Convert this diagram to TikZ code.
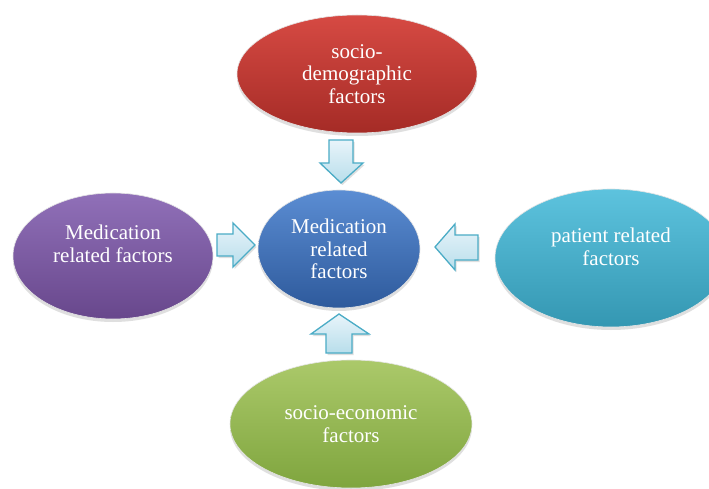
\documentclass[tikz,border=0pt]{standalone}
\usepackage{fontspec}
\setmainfont{Liberation Serif}
\usetikzlibrary{shadows,shapes.geometric}
\definecolor{redT}{HTML}{D64A43}\definecolor{redB}{HTML}{A52B26}
\definecolor{bluT}{HTML}{5B8DD3}\definecolor{bluB}{HTML}{2E5A9C}
\definecolor{purT}{HTML}{9070B8}\definecolor{purB}{HTML}{68478C}
\definecolor{teaT}{HTML}{5DC3DE}\definecolor{teaB}{HTML}{3497B2}
\definecolor{grnT}{HTML}{ABC96A}\definecolor{grnB}{HTML}{7FA53E}
\definecolor{arrT}{HTML}{E8F4FA}\definecolor{arrB}{HTML}{B8DEEB}
\definecolor{arrD}{HTML}{4BACC6}
\tikzset{
  blob/.style={ellipse, minimum width=#1, inner sep=0pt,
    draw=white!80!gray, line width=0.6pt,
    drop shadow={shadow xshift=0pt, shadow yshift=-3pt, opacity=0.25}},
  lbl/.style={text=white, align=center, font=\fontsize{21}{22.5}\selectfont},
  blk/.style={draw=arrD, line width=1.3pt, line join=miter, top color=arrT, bottom color=arrB,
    drop shadow={shadow xshift=1.5pt, shadow yshift=-2pt, opacity=0.25}},
}
\begin{document}
\begin{tikzpicture}[x=1pt,y=-1pt]
\useasboundingbox (0,0) rectangle (709,489);
\fill[white] (0,0) rectangle (709,489);
\node[blob, minimum width=240pt, minimum height=118pt, top color=redT, bottom color=redB] (top) at (357,74) {};
\node[blob, minimum width=162pt, minimum height=118pt, top color=bluT, bottom color=bluB] (mid) at (339,249) {};
\node[blob, minimum width=200pt, minimum height=126pt, top color=purT, bottom color=purB] (left) at (113,256) {};
\node[blob, minimum width=232pt, minimum height=138pt, top color=teaT, bottom color=teaB] (right) at (611,258) {};
\node[blob, minimum width=242pt, minimum height=128pt, top color=grnT, bottom color=grnB] (bot) at (351,424) {};
\node[lbl] (topt) at (top) {socio-\\demographic\\factors};
\node[lbl] (midt) at (mid) {Medication\\related\\factors};
\node[lbl] (leftt) at ([yshift=12pt]left.center) {Medication\\related factors};
\node[lbl] (rightt) at ([yshift=11pt]right.center) {patient related\\factors};
\node[lbl] (bott) at (bot) {socio-economic\\factors};
% block arrows
\path[blk] (329,140) -- (353,140) -- (353,163) -- (363,163) -- (341,183) -- (320,163) -- (329,163) -- cycle;
\path[blk] (217,234) -- (233,234) -- (233,223) -- (255,245) -- (233,267) -- (233,256) -- (217,256) -- cycle;
\path[blk] (478,235) -- (455,235) -- (455,224) -- (435,247) -- (455,270) -- (455,260) -- (478,260) -- cycle;
\path[blk] (326,353) -- (352,353) -- (352,334) -- (369,334) -- (339,314) -- (311,334) -- (326,334) -- cycle;
\end{tikzpicture}
\end{document}
